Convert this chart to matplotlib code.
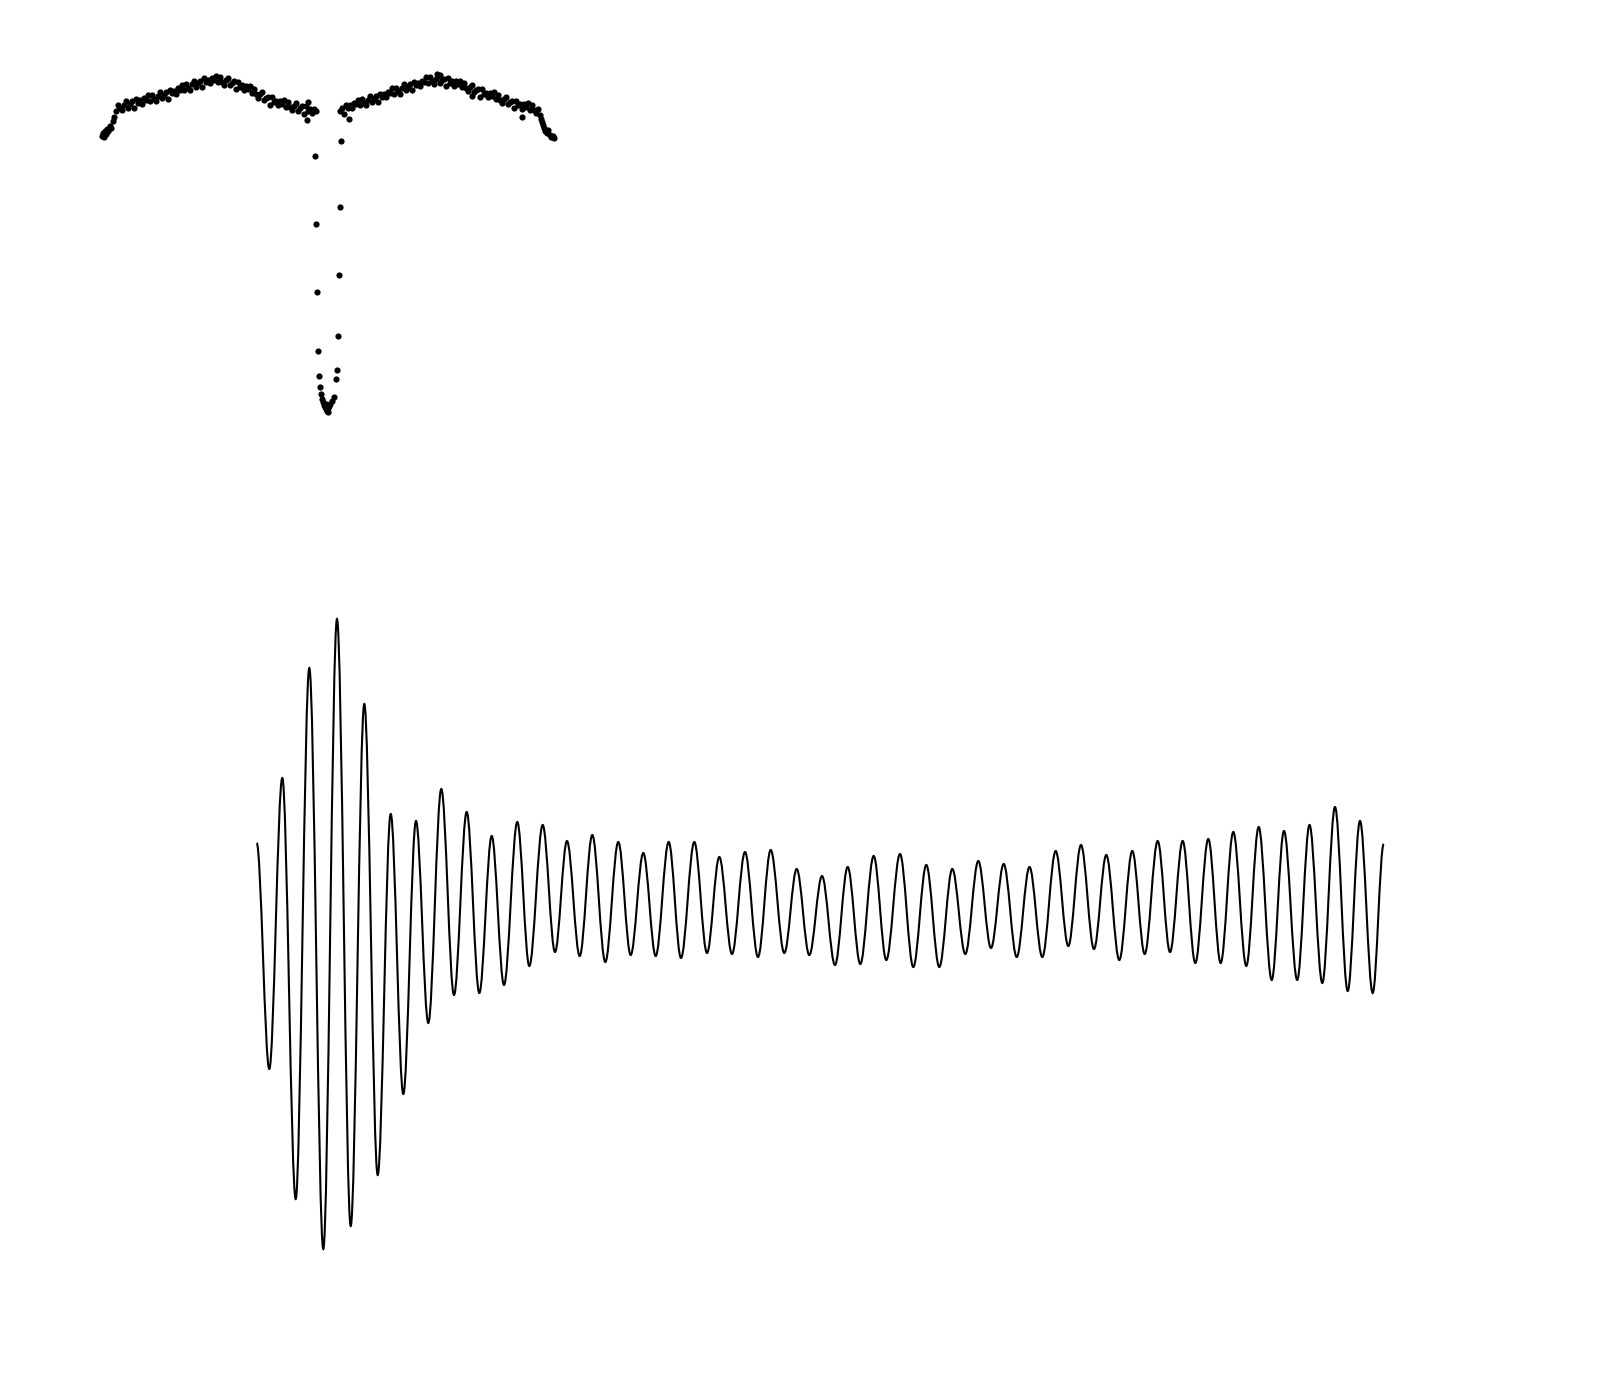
import numpy as np
import matplotlib
matplotlib.use("Agg")
import matplotlib.pyplot as plt
from matplotlib.path import Path
from matplotlib.patches import PathPatch

# light curve: phase bin index and delta magnitude (mmag, fainter = larger)
edge_left_phase = [2, 3, 4, 5, 6, 7, 8, 10, 11, 13, 14]
edge_left_dmag = [56, 53, 57, 51, 54, 49, 51, 46, 48, 41, 37]

arc_left_phase = [16, 18, 20, 22, 24, 26, 28, 30, 32, 34, 36, 38, 40, 42, 44, 46, 48, 50, 52, 54,
                  56, 58, 60, 62, 64, 66, 68, 70, 72, 74, 76, 78, 80, 82, 84, 86, 88, 90, 92, 94,
                  96, 98, 100, 102, 104, 106, 108, 110, 112, 114, 116, 118, 120, 122, 124, 126, 128,
                  130, 132, 134, 136, 138, 140, 142, 144, 146, 148, 150, 152, 154, 156, 158, 160, 162,
                  164, 166, 168, 170, 172, 174, 176, 178, 180, 182, 184, 186, 188, 190, 192, 194, 196,
                  198, 200, 202, 204, 206, 208, 210, 212, 214, 216]
arc_left_dmag = [31, 25, 28, 30, 25, 21, 28, 24, 21, 28,
                 19, 23, 20, 24, 18, 20, 15, 21, 15, 19,
                 21, 16, 12, 18, 15, 12, 19, 10, 13, 11,
                 14, 8, 10, 5, 10, 4, 8, 10, 4, 1,
                 7, 3, 1, 7, -2, 2, 0, 3, -2, 0,
                 -4, 2, -3, 2, 5, 0, -2, 5, 3, 1,
                 9, 2, 7, 5, 10, 6, 9, 6, 13, 9,
                 14, 18, 14, 12, 20, 18, 17, 25, 17, 22,
                 21, 25, 21, 24, 20, 27, 22, 27, 30, 26,
                 23, 31, 28, 26, 34, 26, 31, 29, 33, 29,
                 31]

dip_phase = [215, 216, 217, 218, 219, 220, 221, 222, 223, 224, 225, 226, 226,
             227, 228, 228, 229, 230, 232, 234, 236, 237, 238, 239, 240, 241]
dip_dmag = [76, 144, 212, 271, 296, 307, 314, 319, 322, 325, 327, 324, 329,
            331, 328, 332, 326, 324, 321, 317, 299, 290, 256, 195, 127, 61]

arc_right_phase = [240, 242, 244, 246, 248, 250, 252, 254, 256, 258, 260, 262, 264, 266, 268,
                   270, 272, 274, 276, 278, 280, 282, 284, 286, 288, 290, 292, 294, 296, 298,
                   300, 302, 304, 306, 308, 310, 312, 314, 316, 318, 320, 322, 324, 326, 328,
                   330, 332, 334, 336, 338, 340, 342, 344, 346, 348, 350, 352, 354, 356, 358,
                   360, 362, 364, 366, 368, 370, 372, 374, 376, 378, 380, 382, 384, 386, 388,
                   390, 392, 394, 396, 398, 400, 402, 404, 406, 408, 410, 412, 414, 416, 418,
                   420, 422, 424, 426, 428, 430, 432, 434, 436, 438]
arc_right_dmag = [31, 28, 34, 25, 28, 25, 28, 23, 24, 20,
                  25, 19, 23, 25, 20, 16, 22, 19, 16, 22,
                  14, 17, 14, 17, 12, 13, 8, 14, 8, 11,
                  14, 8, 4, 10, 7, 4, 10, 2, 5, 3,
                  6, 1, 2, -3, 3, -3, 1, 4, -1, -4,
                  3, 0, -1, 6, -2, 3, 1, 6, 1, 4,
                  1, 7, 3, 8, 11, 7, 5, 12, 10, 9,
                  17, 9, 14, 13, 17, 13, 16, 12, 19, 15,
                  20, 23, 19, 17, 24, 22, 21, 28, 21, 25,
                  24, 29, 24, 27, 23, 30, 25, 30, 33, 29]

edge_right_phase = [440, 441, 442, 443, 444, 445, 447, 448, 450, 451, 453, 454]
edge_right_dmag = [35, 39, 42, 45, 48, 51, 53, 50, 55, 57, 56, 58]

outlier_phase = [207, 208, 249, 372, 422, 337, 340]
outlier_dmag = [40, 22, 39, 16, 37, -6, -5]

# ringdown signal: turning points (time, amplitude)
sig_t = [0.0, 12.6, 25.6, 39.0, 52.6, 66.6, 80.3, 94.0, 107.6, 121.0,
         134.0, 146.6, 159.3, 171.6, 184.6, 197.3, 210.0, 222.6, 235.0, 247.3,
         260.6, 272.6, 286.0, 298.3, 310.3, 323.0, 335.6, 348.6, 361.6, 374.0,
         386.6, 399.0, 412.0, 424.3, 437.6, 450.3, 462.6, 475.3, 488.3, 501.3,
         514.0, 527.6, 540.0, 552.6, 565.3, 578.3, 591.0, 603.6, 617.0, 629.6,
         643.3, 656.6, 669.6, 682.6, 695.6, 708.6, 721.6, 734.3, 747.0, 760.0,
         772.8, 785.6, 799.0, 811.6, 824.3, 837.3, 849.6, 862.6, 875.6, 888.0,
         901.0, 913.3, 926.0, 938.6, 951.6, 964.0, 976.6, 989.6, 1002.0, 1015.0,
         1027.3, 1040.5, 1052.8, 1065.6, 1078.3, 1091.0, 1103.3, 1116.0, 1127.0]
sig_v = [57, -169, 122, -299, 232, -349, 281, -326, 196, -275,
         86, -194, 79, -123, 111, -95, 88, -93, 64, -85,
         78, -66, 75, -52, 59, -56, 65, -62, 58, -55,
         47, -56, 58, -58, 58, -53, 43, -54, 48, -57,
         50, -53, 31, -55, 24, -65, 33, -64, 44, -60,
         46, -67, 35, -67, 31, -54, 39, -48, 36, -57,
         33, -57, 49, -46, 55, -49, 45, -60, 49, -54,
         59, -52, 59, -63, 61, -63, 68, -66, 73, -80,
         69, -80, 75, -83, 93, -91, 79, -93, 56]

W, H = 1600, 1380


def px_rect(x0, y0, x1, y1):
    return [x0 / W, 1 - y1 / H, (x1 - x0) / W, (y1 - y0) / H]


fig = plt.figure(figsize=(W / 100, H / 100), dpi=100, facecolor="white")

ax_lc = fig.add_axes(px_rect(80, 40, 600, 440))
phase = np.concatenate([edge_left_phase, arc_left_phase, dip_phase,
                        arc_right_phase, edge_right_phase, outlier_phase])
dmag = np.concatenate([edge_left_dmag, arc_left_dmag, dip_dmag,
                       arc_right_dmag, edge_right_dmag, outlier_dmag])
ax_lc.scatter(phase, dmag, s=20, c="black", linewidths=0)
ax_lc.set_xlim(-20, 500)
ax_lc.set_ylim(360, -40)
ax_lc.axis("off")

ax_sig = fig.add_axes(px_rect(200, 580, 1440, 1280))
verts = [(sig_t[0], sig_v[0])]
codes = [Path.MOVETO]
k = 0.35
for i in range(len(sig_t) - 1):
    t0, t1 = sig_t[i], sig_t[i + 1]
    dt = t1 - t0
    verts += [(t0 + k * dt, sig_v[i]), (t1 - k * dt, sig_v[i + 1]), (t1, sig_v[i + 1])]
    codes += [Path.CURVE4] * 3
ax_sig.add_patch(PathPatch(Path(verts, codes), fill=False, lw=1.5, ec="black"))
ax_sig.set_xlim(-56.7, 1183.3)
ax_sig.set_ylim(-380, 320)
ax_sig.axis("off")

fig.savefig("out.png", dpi=100, facecolor="white")
